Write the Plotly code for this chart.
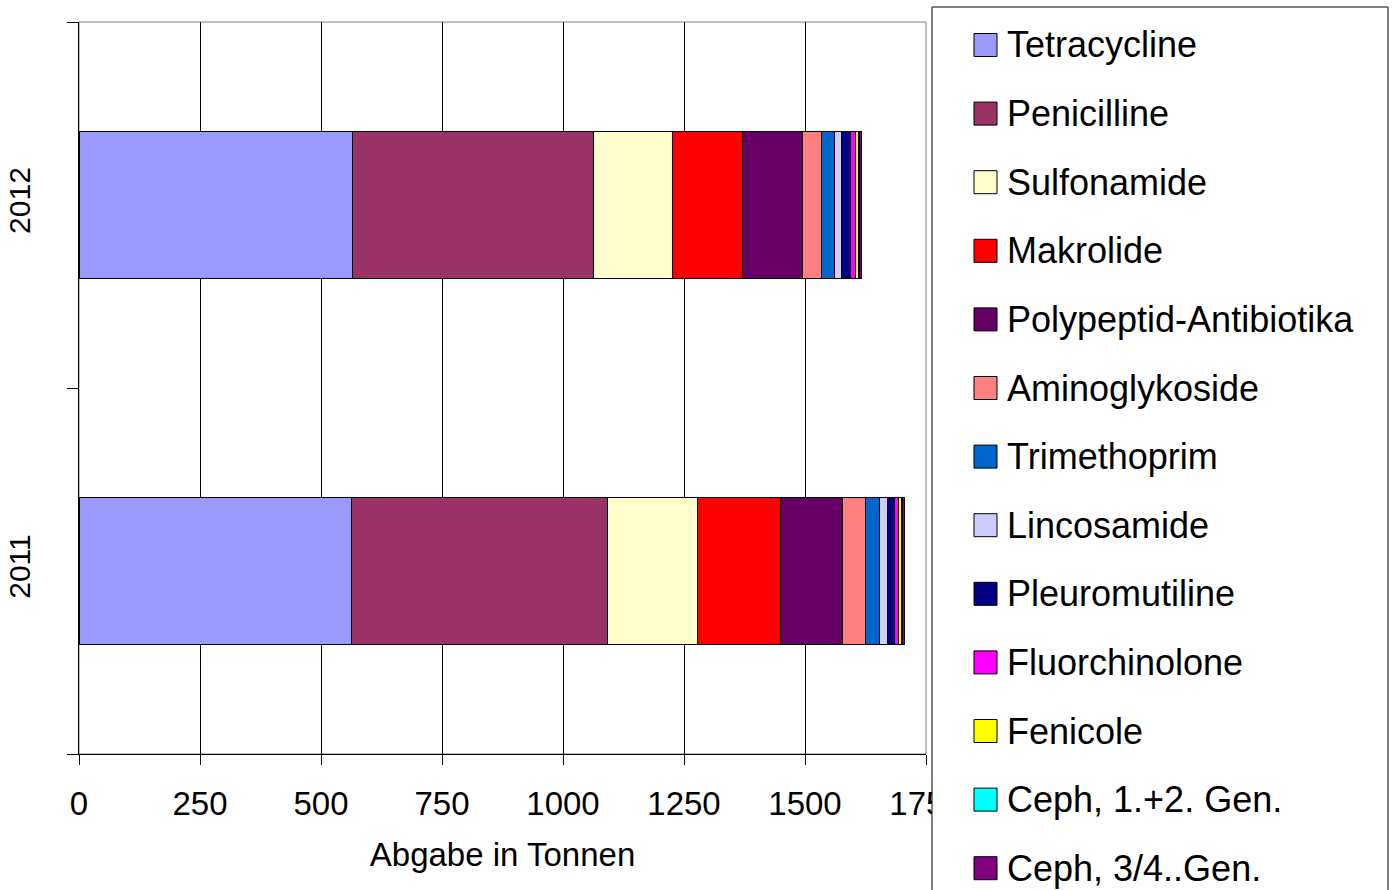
import plotly.graph_objects as go

# Antibiotic sales (tonnes) per substance class and year
years = ["2011", "2012"]
classes = [
    "Tetracycline", "Penicilline", "Sulfonamide", "Makrolide",
    "Polypeptid-Antibiotika", "Aminoglykoside", "Trimethoprim",
    "Lincosamide", "Pleuromutiline", "Fluorchinolone", "Fenicole",
    "Ceph, 1.+2. Gen.", "Ceph, 3/4..Gen.",
]
values_2011 = [564, 528, 185, 173, 127, 47, 30, 17, 14, 8, 6, 2, 3.7]
values_2012 = [566, 498, 162, 145, 124, 40, 26, 15, 18, 10, 6, 2, 3.8]
colors = [
    "#9999FF", "#993366", "#FFFFCC", "#FF0000", "#660066", "#FF8080",
    "#0066CC", "#CCCCFF", "#000080", "#FF00FF", "#FFFF00", "#00FFFF",
    "#800080",
]
x_ticks = [0, 250, 500, 750, 1000, 1250, 1500, 1750]

W, H = 1393, 890
FONT = "Liberation Sans"
L, R, T, B = 79, 467, 22, 136
pw, ph = W - L - R, H - T - B


def px2paper_x(px):
    return (px - L) / pw


def px2paper_y(py):
    return (H - B - py) / ph


fig = go.Figure()
for i, name in enumerate(classes):
    fig.add_trace(go.Bar(
        y=years,
        x=[values_2011[i], values_2012[i]],
        name=name,
        orientation="h",
        marker=dict(color=colors[i], line=dict(color="#000000", width=1)),
        showlegend=False,
    ))

# Plot frame (top / right edges in grey)
shapes = [dict(type="rect", xref="paper", yref="paper", x0=0, x1=1, y0=0, y1=1,
               line=dict(color="#808080", width=1), layer="below")]
annotations = []

# Boxed legend on the right, overlapping the last x tick label
box_l, box_r, box_t = 932, 1388, 7
shapes.append(dict(type="rect", xref="paper", yref="paper", layer="above",
                   x0=px2paper_x(box_l), x1=px2paper_x(box_r),
                   y0=px2paper_y(H + 20), y1=px2paper_y(box_t),
                   line=dict(color="#000000", width=1), fillcolor="#FFFFFF"))

row0, row_step = 45, 68.6
for i, name in enumerate(classes):
    yc = row0 + i * row_step
    shapes.append(dict(type="rect", xref="paper", yref="paper", layer="above",
                       x0=px2paper_x(974), x1=px2paper_x(997),
                       y0=px2paper_y(yc + 11.5), y1=px2paper_y(yc - 11.5),
                       line=dict(color="#000000", width=1), fillcolor=colors[i]))
    annotations.append(dict(xref="paper", yref="paper",
                            x=px2paper_x(1005), y=px2paper_y(yc),
                            xanchor="left", yanchor="middle", showarrow=False,
                            text=name, font=dict(family=FONT, size=36, color="#000000")))

fig.update_layout(
    width=W, height=H,
    margin=dict(l=L, r=R, t=T, b=B, pad=0, autoexpand=False),
    barmode="stack",
    bargap=0.6,
    plot_bgcolor="#FFFFFF",
    paper_bgcolor="#FFFFFF",
    font=dict(family=FONT, color="#000000"),
    shapes=shapes,
    annotations=annotations,
    showlegend=False,
)
fig.update_xaxes(
    automargin=False,
    range=[0, 1750],
    tickvals=x_ticks,
    ticktext=[str(v) for v in x_ticks],
    ticks="outside", ticklen=10, tickcolor="#000000",
    ticklabelstandoff=10,
    showline=True, linecolor="#000000", linewidth=1,
    showgrid=True, gridcolor="#000000", gridwidth=1,
    zeroline=False,
    tickfont=dict(family=FONT, size=33),
    title=dict(text="Abgabe in Tonnen", font=dict(family=FONT, size=33), standoff=22),
)
fig.update_yaxes(
    automargin=False,
    type="category",
    categoryorder="array", categoryarray=years,
    tickson="boundaries",
    ticks="outside", ticklen=11, tickcolor="#000000",
    ticklabelstandoff=36,
    showline=True, linecolor="#000000", linewidth=1,
    showgrid=False, zeroline=False,
    tickangle=-90,
    tickfont=dict(family=FONT, size=30),
)

fig.write_html("out.html")
